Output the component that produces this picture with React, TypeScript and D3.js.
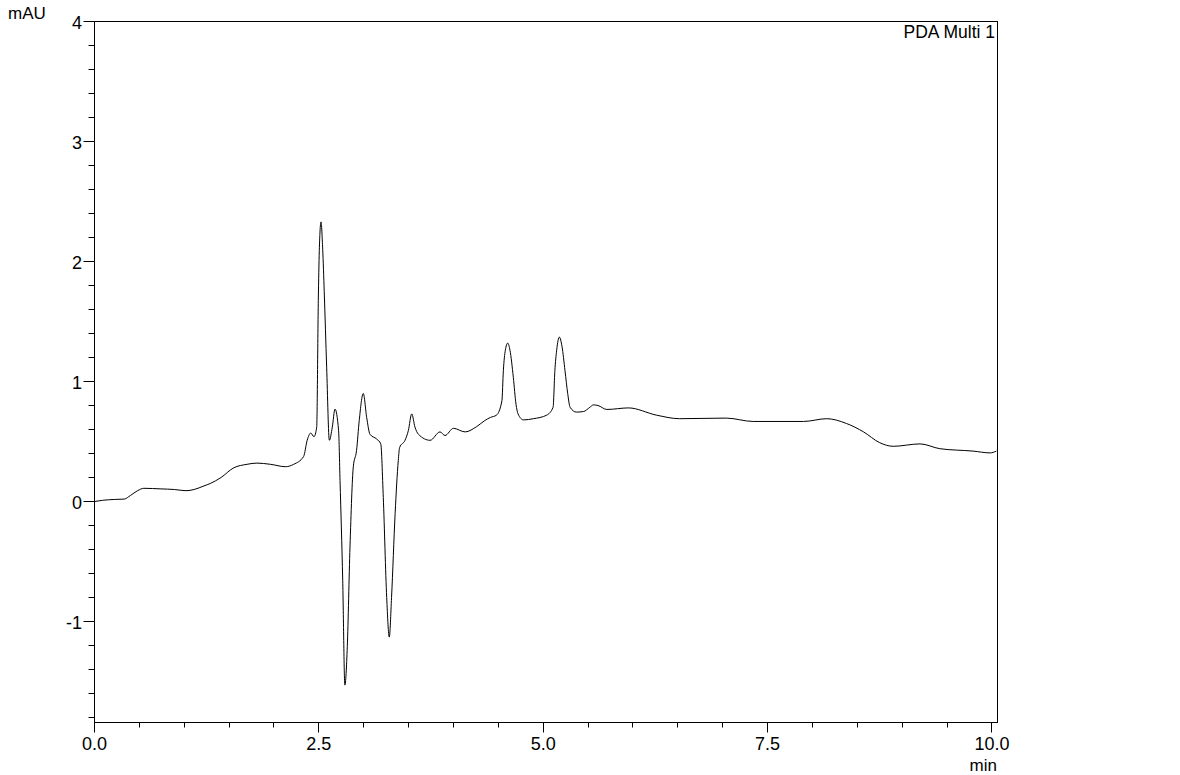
import React from "react";
import * as d3 from "d3";

const times = [
  0.0, 0.09, 0.22, 0.33, 0.4, 0.48, 0.55, 0.74, 0.89, 1.02, 1.11, 1.22, 1.29, 1.41, 1.55, 1.7, 1.81, 1.96, 2.13, 2.22,
  2.33, 2.37, 2.41, 2.446, 2.476, 2.494, 2.505, 2.524, 2.543, 2.56, 2.587, 2.617, 2.65, 2.68, 2.72, 2.736, 2.766, 2.79,
  2.817, 2.847, 2.884, 2.92, 2.95, 2.995, 3.033, 3.07, 3.145, 3.19, 3.218, 3.256, 3.285, 3.31, 3.35, 3.385, 3.4, 3.46,
  3.497, 3.535, 3.571, 3.61, 3.74, 3.85, 3.906, 4.0, 4.13, 4.26, 4.35, 4.41, 4.48, 4.54, 4.556, 4.578, 4.605, 4.63,
  4.667, 4.697, 4.72, 4.78, 4.89, 5.04, 5.11, 5.13, 5.15, 5.18, 5.21, 5.243, 5.273, 5.3, 5.37, 5.45, 5.52, 5.56, 5.61,
  5.71, 5.95, 6.26, 6.52, 7.04, 7.34, 7.9, 8.16, 8.38, 8.57, 8.75, 8.9, 9.2, 9.42, 9.79, 9.98, 10.05,
];
const values = [
  0.0, 0.01, 0.017, 0.02, 0.05, 0.09, 0.11, 0.105, 0.1, 0.09, 0.1, 0.13, 0.15, 0.2, 0.28, 0.31, 0.32, 0.31, 0.29, 0.31,
  0.375, 0.51, 0.57, 0.54, 0.62, 1.675, 2.09, 2.33, 2.1, 1.75, 1.12, 0.51, 0.62, 0.77, 0.59, 0.175, -0.66, -1.53,
  -1.21, -0.38, 0.29, 0.425, 0.675, 0.9, 0.7, 0.56, 0.52, 0.48, 0.035, -0.8, -1.13, -0.8, -0.1, 0.34, 0.45, 0.51,
  0.59, 0.73, 0.62, 0.56, 0.51, 0.58, 0.55, 0.61, 0.58, 0.625, 0.675, 0.7, 0.72, 0.84, 1.09, 1.26, 1.32, 1.26,
  1.035, 0.81, 0.73, 0.68, 0.69, 0.72, 0.785, 1.09, 1.26, 1.37, 1.29, 1.09, 0.9, 0.785, 0.745, 0.75, 0.785, 0.805, 0.8,
  0.767, 0.78, 0.72, 0.69, 0.695, 0.667, 0.667, 0.69, 0.65, 0.58, 0.49, 0.46, 0.48, 0.44, 0.42, 0.405, 0.42,
];

const xMajorTicks = [0, 2.5, 5, 7.5, 10];
const xTickLabels = ["0.0", "2.5", "5.0", "7.5", "10.0"];
const yMajorTicks = [-1, 0, 1, 2, 3, 4];
const yTickLabels = ["-1", "0", "1", "2", "3", "4"];
const seriesName = "PDA Multi 1";
const yUnit = "mAU";
const xUnit = "min";

const X0 = 94.5;
const X1 = 997.5;
const Y0 = 21.5;
const Y1 = 722.5;

export default function App() {
  const x = d3.scaleLinear().domain([0, 10]).range([94.5, 991.9]);
  const y = d3.scaleLinear().domain([0, 4]).range([501.5, 21.5]);

  const data = times.map((t, i) => [t, values[i]] as [number, number]);
  const line = d3
    .line<[number, number]>()
    .x((d) => x(d[0]))
    .y((d) => y(d[1]))
    .curve(d3.curveMonotoneX);

  const xMinor = d3.range(0, 10.01, 0.5);
  const yMinor = d3.range(-1.8, 4.01, 0.2).map((v) => Math.round(v * 10) / 10);
  const font = "'Liberation Sans', Arial, sans-serif";

  return (
    <svg
      width={1180}
      height={775}
      style={{ position: "absolute", left: 0, top: 0, background: "#fff" }}
      fontFamily={font}
    >
      <rect x={0} y={0} width={1180} height={775} fill="#fff" />
      <defs>
        <clipPath id="plotClip">
          <rect x={X0} y={Y0} width={X1 - X0} height={Y1 - Y0} />
        </clipPath>
      </defs>
      <path d={line(data) || ""} fill="none" stroke="#000" strokeWidth={1} clipPath="url(#plotClip)" />
      <rect x={X0} y={Y0} width={X1 - X0} height={Y1 - Y0} fill="none" stroke="#000" strokeWidth={1} />
      {yMinor.map((v) => {
        const major = Math.abs(v - Math.round(v)) < 1e-6;
        const yy = Math.round(y(v) - 0.5) + 0.5;
        return <line key={"ym" + v} x1={X0 - (major ? 11 : 6)} x2={X0} y1={yy} y2={yy} stroke="#000" strokeWidth={1} />;
      })}
      {yMajorTicks.map((v, i) => (
        <text key={"yl" + v} x={82} y={y(v) + 7} textAnchor="end" fontSize={18} fill="#000">
          {yTickLabels[i]}
        </text>
      ))}
      {xMinor.map((v) => {
        const major = xMajorTicks.some((m) => Math.abs(m - v) < 1e-6);
        const xx = Math.round(x(v) - 0.5) + 0.5;
        return <line key={"xm" + v} x1={xx} x2={xx} y1={Y1} y2={Y1 + (major ? 10 : 5)} stroke="#000" strokeWidth={1} />;
      })}
      {xMajorTicks.map((v, i) => (
        <text key={"xl" + v} x={x(v)} y={750} textAnchor="middle" fontSize={18} fill="#000">
          {xTickLabels[i]}
        </text>
      ))}
      <text x={8} y={19} fontSize={17} fill="#000">
        {yUnit}
      </text>
      <text x={997} y={771} textAnchor="end" fontSize={17} fill="#000">
        {xUnit}
      </text>
      <text x={995} y={38} textAnchor="end" fontSize={17.5} fill="#000">
        {seriesName}
      </text>
    </svg>
  );
}
